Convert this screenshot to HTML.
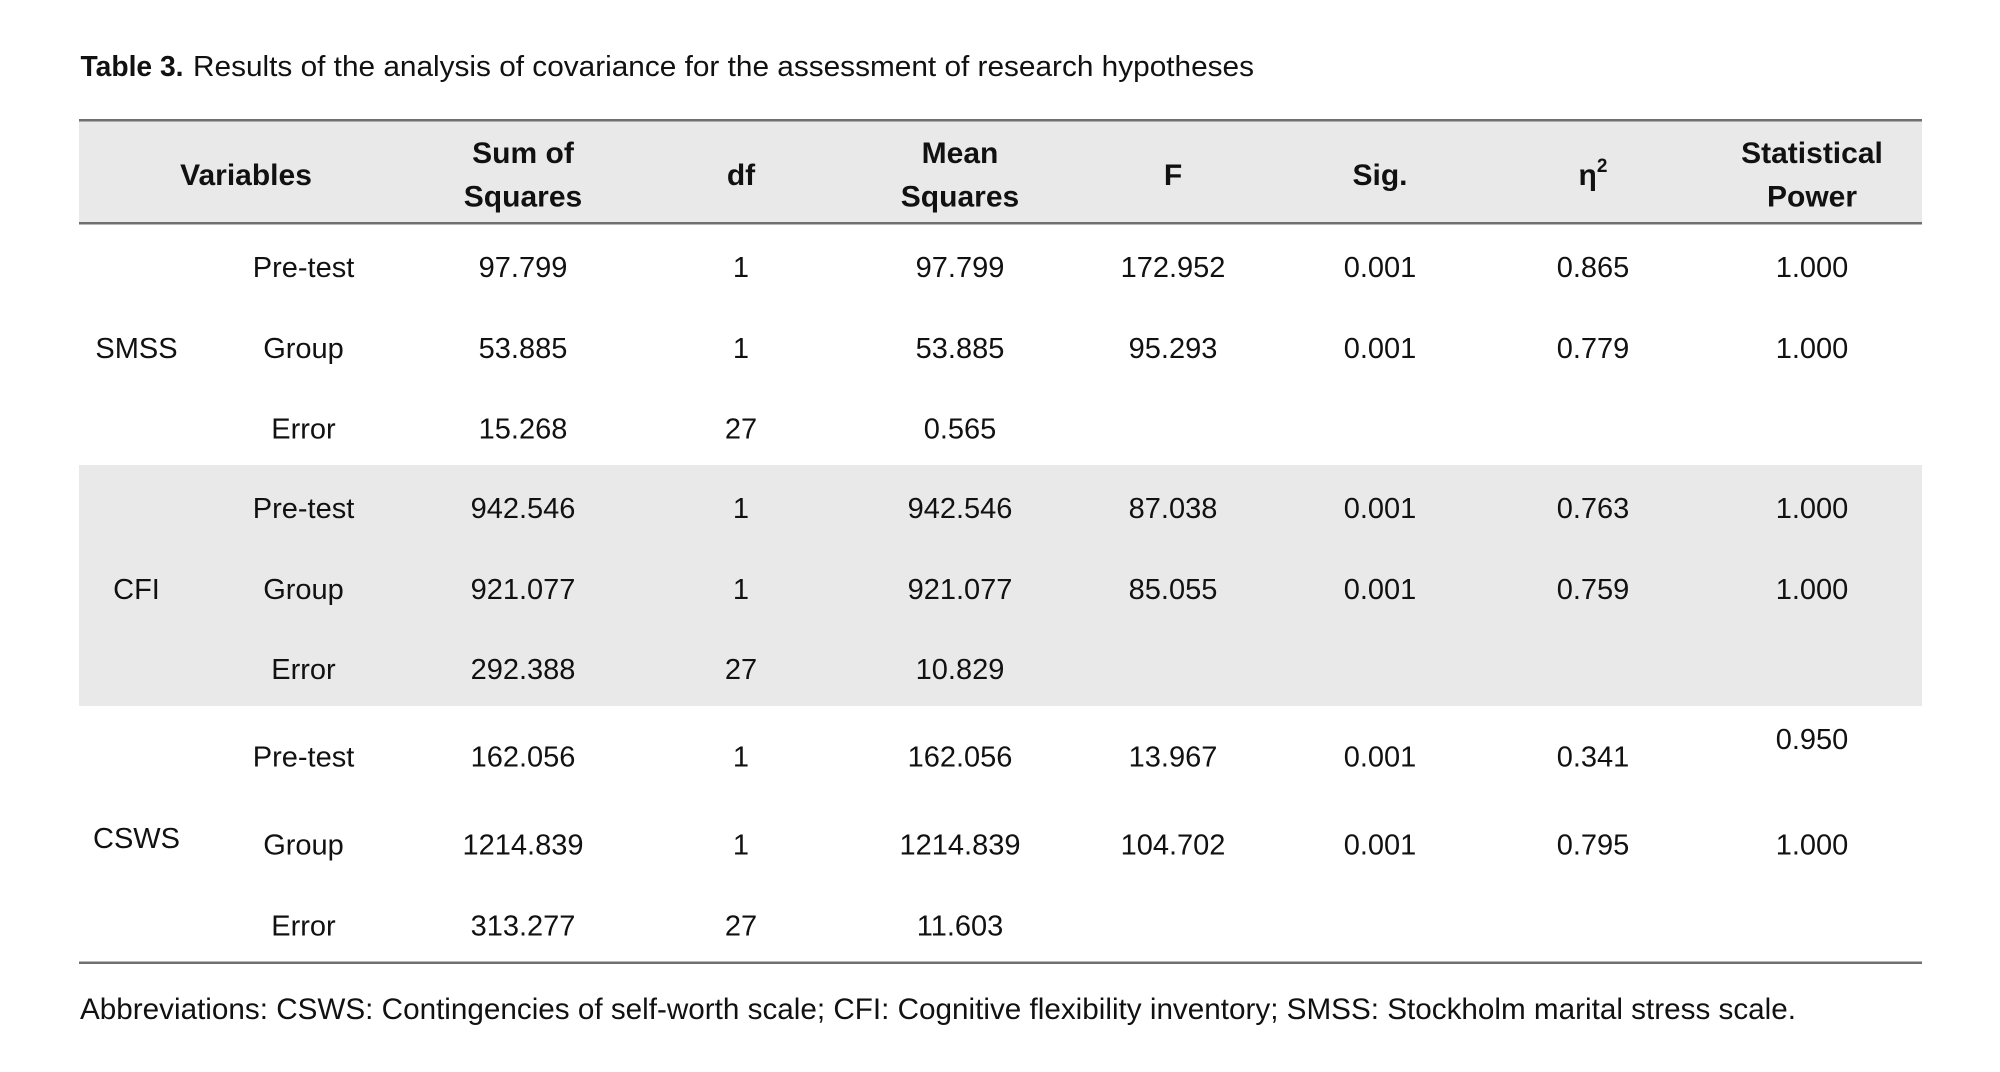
<!DOCTYPE html>
<html>
<head>
<meta charset="utf-8">
<style>
  html,body{margin:0;padding:0;background:#fff;}
  svg{display:block;}
  text{font-family:"Liberation Sans", "DejaVu Sans", sans-serif;fill:#111;}
  .h{font-weight:bold;font-size:30px;}
  .b{font-size:29px;}
</style>
</head>
<body>
<svg width="2000" height="1072" viewBox="0 0 2000 1072" xmlns="http://www.w3.org/2000/svg">
  <rect x="0" y="0" width="2000" height="1072" fill="#fff"/>

  <!-- Title -->
  <text x="80.5" y="76" font-size="29" font-weight="bold" textLength="103" lengthAdjust="spacingAndGlyphs">Table 3.</text>
  <text x="193" y="76" font-size="29" textLength="1061" lengthAdjust="spacingAndGlyphs">Results of the analysis of covariance for the assessment of research hypotheses</text>

  <!-- Header background -->
  <rect x="79" y="121" width="1843" height="102" fill="#e9e9e9"/>
  <!-- CFI band -->
  <rect x="79" y="465" width="1843" height="241" fill="#e9e9e9"/>

  <!-- Lines -->
  <rect x="79" y="119" width="1843" height="2.5" fill="#707070"/>
  <rect x="79" y="222" width="1843" height="2.5" fill="#707070"/>
  <rect x="79" y="961.5" width="1843" height="2.5" fill="#707070"/>

  <!-- Header text -->
  <g text-anchor="middle">
    <text class="h" x="246" y="185">Variables</text>
    <text class="h" x="523" y="163">Sum of</text>
    <text class="h" x="523" y="206.5">Squares</text>
    <text class="h" x="741" y="185">df</text>
    <text class="h" x="960" y="163">Mean</text>
    <text class="h" x="960" y="206.5">Squares</text>
    <text class="h" x="1173" y="185">F</text>
    <text class="h" x="1380" y="185">Sig.</text>
    <text class="h" x="1593" y="185">η<tspan font-size="19" dy="-13">2</tspan></text>
    <text class="h" x="1812" y="163">Statistical</text>
    <text class="h" x="1812" y="206.5">Power</text>
  </g>

  <!-- Body -->
  <g text-anchor="middle">
    <!-- SMSS -->
    <text class="b" x="136.5" y="358">SMSS</text>
    <text class="b" x="303.5" y="277">Pre-test</text>
    <text class="b" x="523" y="277">97.799</text>
    <text class="b" x="741" y="277">1</text>
    <text class="b" x="960" y="277">97.799</text>
    <text class="b" x="1173" y="277">172.952</text>
    <text class="b" x="1380" y="277">0.001</text>
    <text class="b" x="1593" y="277">0.865</text>
    <text class="b" x="1812" y="277">1.000</text>

    <text class="b" x="303.5" y="358">Group</text>
    <text class="b" x="523" y="358">53.885</text>
    <text class="b" x="741" y="358">1</text>
    <text class="b" x="960" y="358">53.885</text>
    <text class="b" x="1173" y="358">95.293</text>
    <text class="b" x="1380" y="358">0.001</text>
    <text class="b" x="1593" y="358">0.779</text>
    <text class="b" x="1812" y="358">1.000</text>

    <text class="b" x="303.5" y="438.5">Error</text>
    <text class="b" x="523" y="438.5">15.268</text>
    <text class="b" x="741" y="438.5">27</text>
    <text class="b" x="960" y="438.5">0.565</text>

    <!-- CFI -->
    <text class="b" x="136.5" y="599">CFI</text>
    <text class="b" x="303.5" y="518">Pre-test</text>
    <text class="b" x="523" y="518">942.546</text>
    <text class="b" x="741" y="518">1</text>
    <text class="b" x="960" y="518">942.546</text>
    <text class="b" x="1173" y="518">87.038</text>
    <text class="b" x="1380" y="518">0.001</text>
    <text class="b" x="1593" y="518">0.763</text>
    <text class="b" x="1812" y="518">1.000</text>

    <text class="b" x="303.5" y="599">Group</text>
    <text class="b" x="523" y="599">921.077</text>
    <text class="b" x="741" y="599">1</text>
    <text class="b" x="960" y="599">921.077</text>
    <text class="b" x="1173" y="599">85.055</text>
    <text class="b" x="1380" y="599">0.001</text>
    <text class="b" x="1593" y="599">0.759</text>
    <text class="b" x="1812" y="599">1.000</text>

    <text class="b" x="303.5" y="679">Error</text>
    <text class="b" x="523" y="679">292.388</text>
    <text class="b" x="741" y="679">27</text>
    <text class="b" x="960" y="679">10.829</text>

    <!-- CSWS -->
    <text class="b" x="136.5" y="848">CSWS</text>
    <text class="b" x="303.5" y="766.5">Pre-test</text>
    <text class="b" x="523" y="766.5">162.056</text>
    <text class="b" x="741" y="766.5">1</text>
    <text class="b" x="960" y="766.5">162.056</text>
    <text class="b" x="1173" y="766.5">13.967</text>
    <text class="b" x="1380" y="766.5">0.001</text>
    <text class="b" x="1593" y="766.5">0.341</text>
    <text class="b" x="1812" y="749">0.950</text>

    <text class="b" x="303.5" y="854.5">Group</text>
    <text class="b" x="523" y="854.5">1214.839</text>
    <text class="b" x="741" y="854.5">1</text>
    <text class="b" x="960" y="854.5">1214.839</text>
    <text class="b" x="1173" y="854.5">104.702</text>
    <text class="b" x="1380" y="854.5">0.001</text>
    <text class="b" x="1593" y="854.5">0.795</text>
    <text class="b" x="1812" y="854.5">1.000</text>

    <text class="b" x="303.5" y="935.5">Error</text>
    <text class="b" x="523" y="935.5">313.277</text>
    <text class="b" x="741" y="935.5">27</text>
    <text class="b" x="960" y="935.5">11.603</text>
  </g>

  <!-- Footer -->
  <text x="80" y="1019" font-size="30" textLength="1716" lengthAdjust="spacingAndGlyphs">Abbreviations: CSWS: Contingencies of self-worth scale; CFI: Cognitive flexibility inventory; SMSS: Stockholm marital stress scale.</text>
</svg>
</body>
</html>
